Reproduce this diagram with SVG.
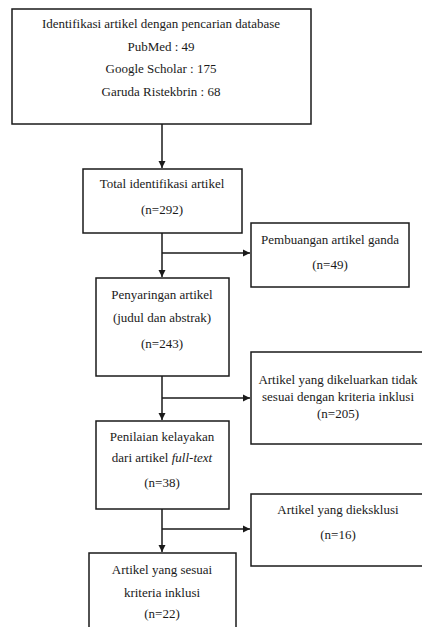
<svg xmlns="http://www.w3.org/2000/svg" width="422" height="627" viewBox="0 0 422 627">
<defs>
<marker id="arr" markerWidth="8" markerHeight="8" refX="7" refY="4" orient="auto" markerUnits="userSpaceOnUse">
<path d="M0,0.5 L7,4 L0,7.5 Z" fill="#1a1a1a"/>
</marker>
<style>
.box{fill:#fff;stroke:#1a1a1a;stroke-width:1.5}
.t{font-size:13px;fill:#1a1a1a;text-anchor:middle}
.c{stroke:#1a1a1a;stroke-width:1.5;fill:none}
</style>
</defs>
<rect width="422" height="627" fill="#fff"/>
<g id="connectors">
<line class="c" x1="162" y1="124" x2="162" y2="168" marker-end="url(#arr)"/>
<line class="c" x1="162" y1="233" x2="162" y2="277" marker-end="url(#arr)"/>
<line class="c" x1="162" y1="253" x2="250" y2="253" marker-end="url(#arr)"/>
<line class="c" x1="162" y1="376" x2="162" y2="420" marker-end="url(#arr)"/>
<line class="c" x1="162" y1="398" x2="250" y2="398" marker-end="url(#arr)"/>
<line class="c" x1="162" y1="509" x2="162" y2="552" marker-end="url(#arr)"/>
<line class="c" x1="162" y1="529" x2="250" y2="529" marker-end="url(#arr)"/>
</g>
<g font-family="'Liberation Serif', 'Times New Roman', serif">
<g id="n1">
<rect class="box" x="12" y="9" width="299" height="115"/>
<text class="t" x="161" y="28">Identifikasi artikel dengan pencarian database</text>
<text class="t" x="161" y="51">PubMed : 49</text>
<text class="t" x="161" y="73">Google Scholar : 175</text>
<text class="t" x="161" y="96">Garuda Ristekbrin : 68</text>
</g>
<g id="n2">
<rect class="box" x="83" y="169" width="159" height="64"/>
<text class="t" x="162" y="188">Total identifikasi artikel</text>
<text class="t" x="162" y="214">(n=292)</text>
</g>
<g id="n3">
<rect class="box" x="251" y="223" width="158" height="64"/>
<text class="t" x="330" y="244">Pembuangan artikel ganda</text>
<text class="t" x="330" y="269">(n=49)</text>
</g>
<g id="n4">
<rect class="box" x="96" y="278" width="133" height="98"/>
<text class="t" x="162" y="299">Penyaringan artikel</text>
<text class="t" x="162" y="322">(judul dan abstrak)</text>
<text class="t" x="162" y="348">(n=243)</text>
</g>
<g id="n5">
<rect class="box" x="251" y="352" width="175" height="92"/>
<text class="t" x="338" y="384">Artikel yang dikeluarkan tidak</text>
<text class="t" x="338" y="401">sesuai dengan kriteria inklusi</text>
<text class="t" x="338" y="418">(n=205)</text>
</g>
<g id="n6">
<rect class="box" x="96" y="421" width="133" height="88"/>
<text class="t" x="162" y="441">Penilaian kelayakan</text>
<text class="t" x="162" y="462">dari artikel <tspan font-style="italic">full-text</tspan></text>
<text class="t" x="162" y="487">(n=38)</text>
</g>
<g id="n7">
<rect class="box" x="251" y="494" width="175" height="72"/>
<text class="t" x="338" y="514">Artikel yang  dieksklusi</text>
<text class="t" x="338" y="539">(n=16)</text>
</g>
<g id="n8">
<rect class="box" x="89" y="553" width="147" height="80"/>
<text class="t" x="162" y="574">Artikel yang sesuai</text>
<text class="t" x="162" y="597">kriteria inklusi</text>
<text class="t" x="162" y="618">(n=22)</text>
</g>
</g>
</svg>
